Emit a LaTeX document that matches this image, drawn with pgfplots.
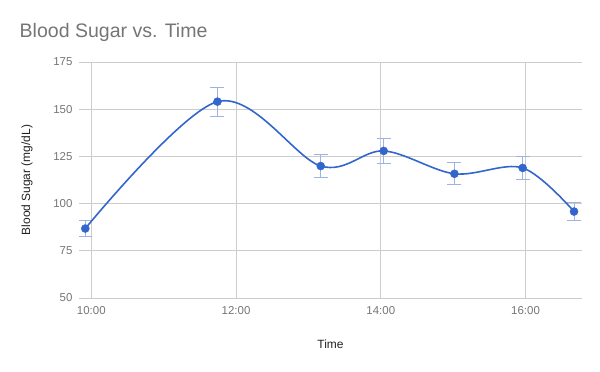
\documentclass[border=0pt]{standalone}
\usepackage{pgfplots}
\pgfplotsset{compat=1.18}
\usepackage{fontspec}
\setmainfont{Liberation Sans}
\definecolor{gline}{HTML}{3366CC}
\definecolor{gerr}{HTML}{9DB3E6}
\definecolor{ggrid}{HTML}{CCCCCC}
\definecolor{gtick}{HTML}{757575}
\definecolor{glab}{HTML}{222222}
\pgfplotstableread{
t v e
9.917 86.8 4.35
11.743 154.0 7.7
13.17 119.9 6.0
14.04 127.9 6.4
15.017 115.8 5.8
15.96 118.9 5.95
16.67 95.8 4.8
}\bsdata
\begin{document}
\begin{tikzpicture}[x=1bp,y=1bp]
\path[use as bounding box] (0,0) rectangle (600,371);
\node[anchor=west,text=gtick,font=\fontsize{19.6}{22}\selectfont,inner sep=0pt] at (19.5,339) {Blood Sugar vs. Time};
\begin{axis}[
  at={(79bp,73bp)}, anchor=south west,
  scale only axis, width=503bp, height=236bp,
  xmin=9.83, xmax=16.78, ymin=50, ymax=175,
  xtick={10,12,14,16}, xticklabels={10:00,12:00,14:00,16:00},
  ytick={50,75,100,125,150,175},
  xmajorgrids, ymajorgrids,
  x grid style={ggrid, line width=0.8pt},
  y grid style={ggrid, line width=0.8pt},
  axis x line*=bottom, axis y line*=left,
  axis line style={draw=none},
  major tick length=0pt,
  tick label style={text=gtick, font=\fontsize{11.5}{13}\selectfont},
  /pgf/number format/assume math mode=true,
  xticklabel style={yshift=-5bp},
  yticklabel style={xshift=-3bp},
  xlabel={Time}, ylabel={Blood Sugar (mg/dL)},
  label style={text=glab, font=\fontsize{12}{14}\selectfont},
  xlabel style={at={(axis description cs:0.5,0)}, anchor=center, yshift=-46bp},
  ylabel style={at={(axis description cs:0,0.5)}, anchor=center, rotate=0, yshift=52bp},
]
\addplot[draw=none, mark=none,
  error bars/.cd, y dir=both, y explicit,
  error bar style={gerr, line width=1pt},
  error mark options={gerr, line width=1pt, mark size=7bp, rotate=90}]
  table[x=t, y=v, y error=e] {\bsdata};
\addplot[gline, line width=1.6pt, smooth, tension=0.55, no marks] table[x=t, y=v] {\bsdata};
\addplot[gline, only marks, mark=*, mark size=4bp, mark options={fill=gline, draw=gline, line width=0.5pt}] table[x=t, y=v] {\bsdata};
\end{axis}
\end{tikzpicture}
\end{document}
